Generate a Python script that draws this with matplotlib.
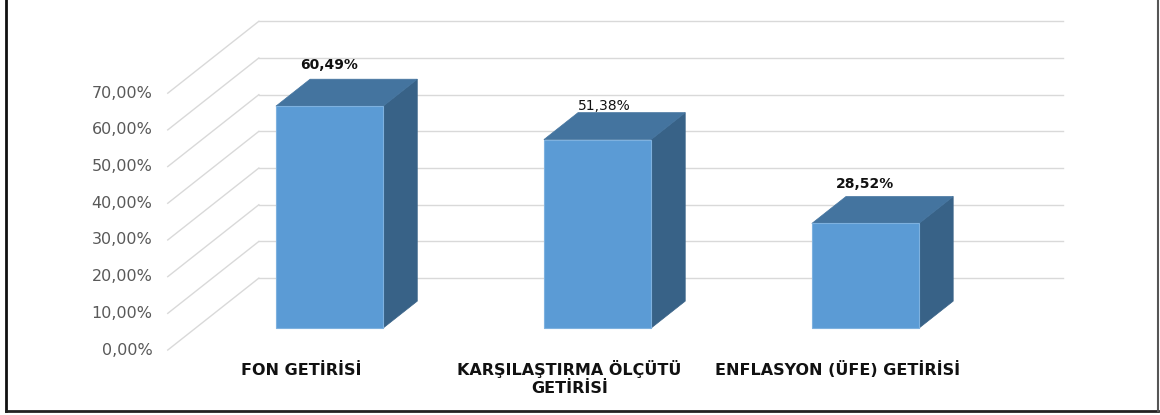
import matplotlib
matplotlib.use("Agg")
import matplotlib.pyplot as plt
from matplotlib.patches import Polygon, Rectangle

# data
categories = ["FON GETİRİSİ", "KARŞILAŞTIRMA ÖLÇÜTÜ\nGETİRİSİ", "ENFLASYON (ÜFE) GETİRİSİ"]
values = [60.49, 51.38, 28.52]
value_labels = ["60,49%", "51,38%", "28,52%"]
yticks = [0, 10, 20, 30, 40, 50, 60, 70]
ytick_labels = ["0,00%", "10,00%", "20,00%", "30,00%", "40,00%", "50,00%", "60,00%", "70,00%"]

# pseudo-3d layout: a unit of depth shifts by (DX, DZ) in data units
DX, DZ = 0.34, 19.6
BAR_W = 0.40
BAR_D0, BAR_D1 = 0.305, 0.68
FRONT = "#5b9bd5"
TOP = "#44749f"
SIDE = "#386287"
GRID = "#d9d9d9"

fig = plt.figure(figsize=(11.6, 4.15), dpi=100)
ax = fig.add_axes([0, 0, 1, 1])
ax.set_xlim(-1.126, 3.203)
ax.set_ylim(-17.7, 95.4)
ax.axis("off")

x0, x1 = -0.5, len(categories) - 0.5
for v, lab in zip(yticks, ytick_labels):
    # side wall line and back wall line
    ax.plot([x0, x0 + DX], [v, v + DZ], color=GRID, lw=1.0, zorder=1)
    ax.plot([x0 + DX, x1 + DX], [v + DZ, v + DZ], color=GRID, lw=1.0, zorder=1)
    ax.annotate(lab, (x0, v), textcoords="offset points", xytext=(-11, 0),
                ha="right", va="center", fontsize=11.5, color="#595959")

label_style = [((0, 5), "bold"), ((5, 0), "normal"), ((0, 4), "bold")]
bd = BAR_D1 - BAR_D0
for i, (v, vl) in enumerate(zip(values, value_labels)):
    xl = i - BAR_W / 2 + BAR_D0 * DX
    xr = xl + BAR_W
    yb = BAR_D0 * DZ
    yt = yb + v
    ax.add_patch(Polygon([(xr, yb), (xr + bd * DX, yb + bd * DZ),
                          (xr + bd * DX, yt + bd * DZ), (xr, yt)],
                         closed=True, fc=SIDE, ec=SIDE, lw=0.5, zorder=3))
    ax.add_patch(Polygon([(xl, yt), (xr, yt), (xr + bd * DX, yt + bd * DZ),
                          (xl + bd * DX, yt + bd * DZ)],
                         closed=True, fc=TOP, ec=TOP, lw=0.5, zorder=3))
    ax.add_patch(Rectangle((xl, yb), BAR_W, v, fc=FRONT, ec="#7eb1df",
                           lw=0.8, zorder=4))
    off, wt = label_style[i]
    ax.annotate(vl, (i + BAR_D0 * DX, yt + bd * DZ), textcoords="offset points",
                xytext=off, ha="center", va="bottom", fontsize=10,
                fontweight=wt, color="#111111", zorder=5)
    for k, line in enumerate(categories[i].split("\n")):
        ax.annotate(line, (i, -6.8), textcoords="offset points",
                    xytext=(0, -13 * k), ha="center", va="baseline",
                    fontsize=11.5, fontweight="bold", color="#111111")

# outer frame (open at the top as in the source image)
ax.plot([0.0055, 0.0055], [1.0, 0.0095], transform=ax.transAxes,
        color="#111111", lw=2, clip_on=False)
ax.plot([0.0055, 0.998], [0.0095, 0.0095], transform=ax.transAxes,
        color="#222222", lw=2, clip_on=False)
ax.plot([0.998, 0.998], [0.0095, 1.0], transform=ax.transAxes,
        color="#555555", lw=1.5, clip_on=False)

fig.savefig("out.png", dpi=100)
